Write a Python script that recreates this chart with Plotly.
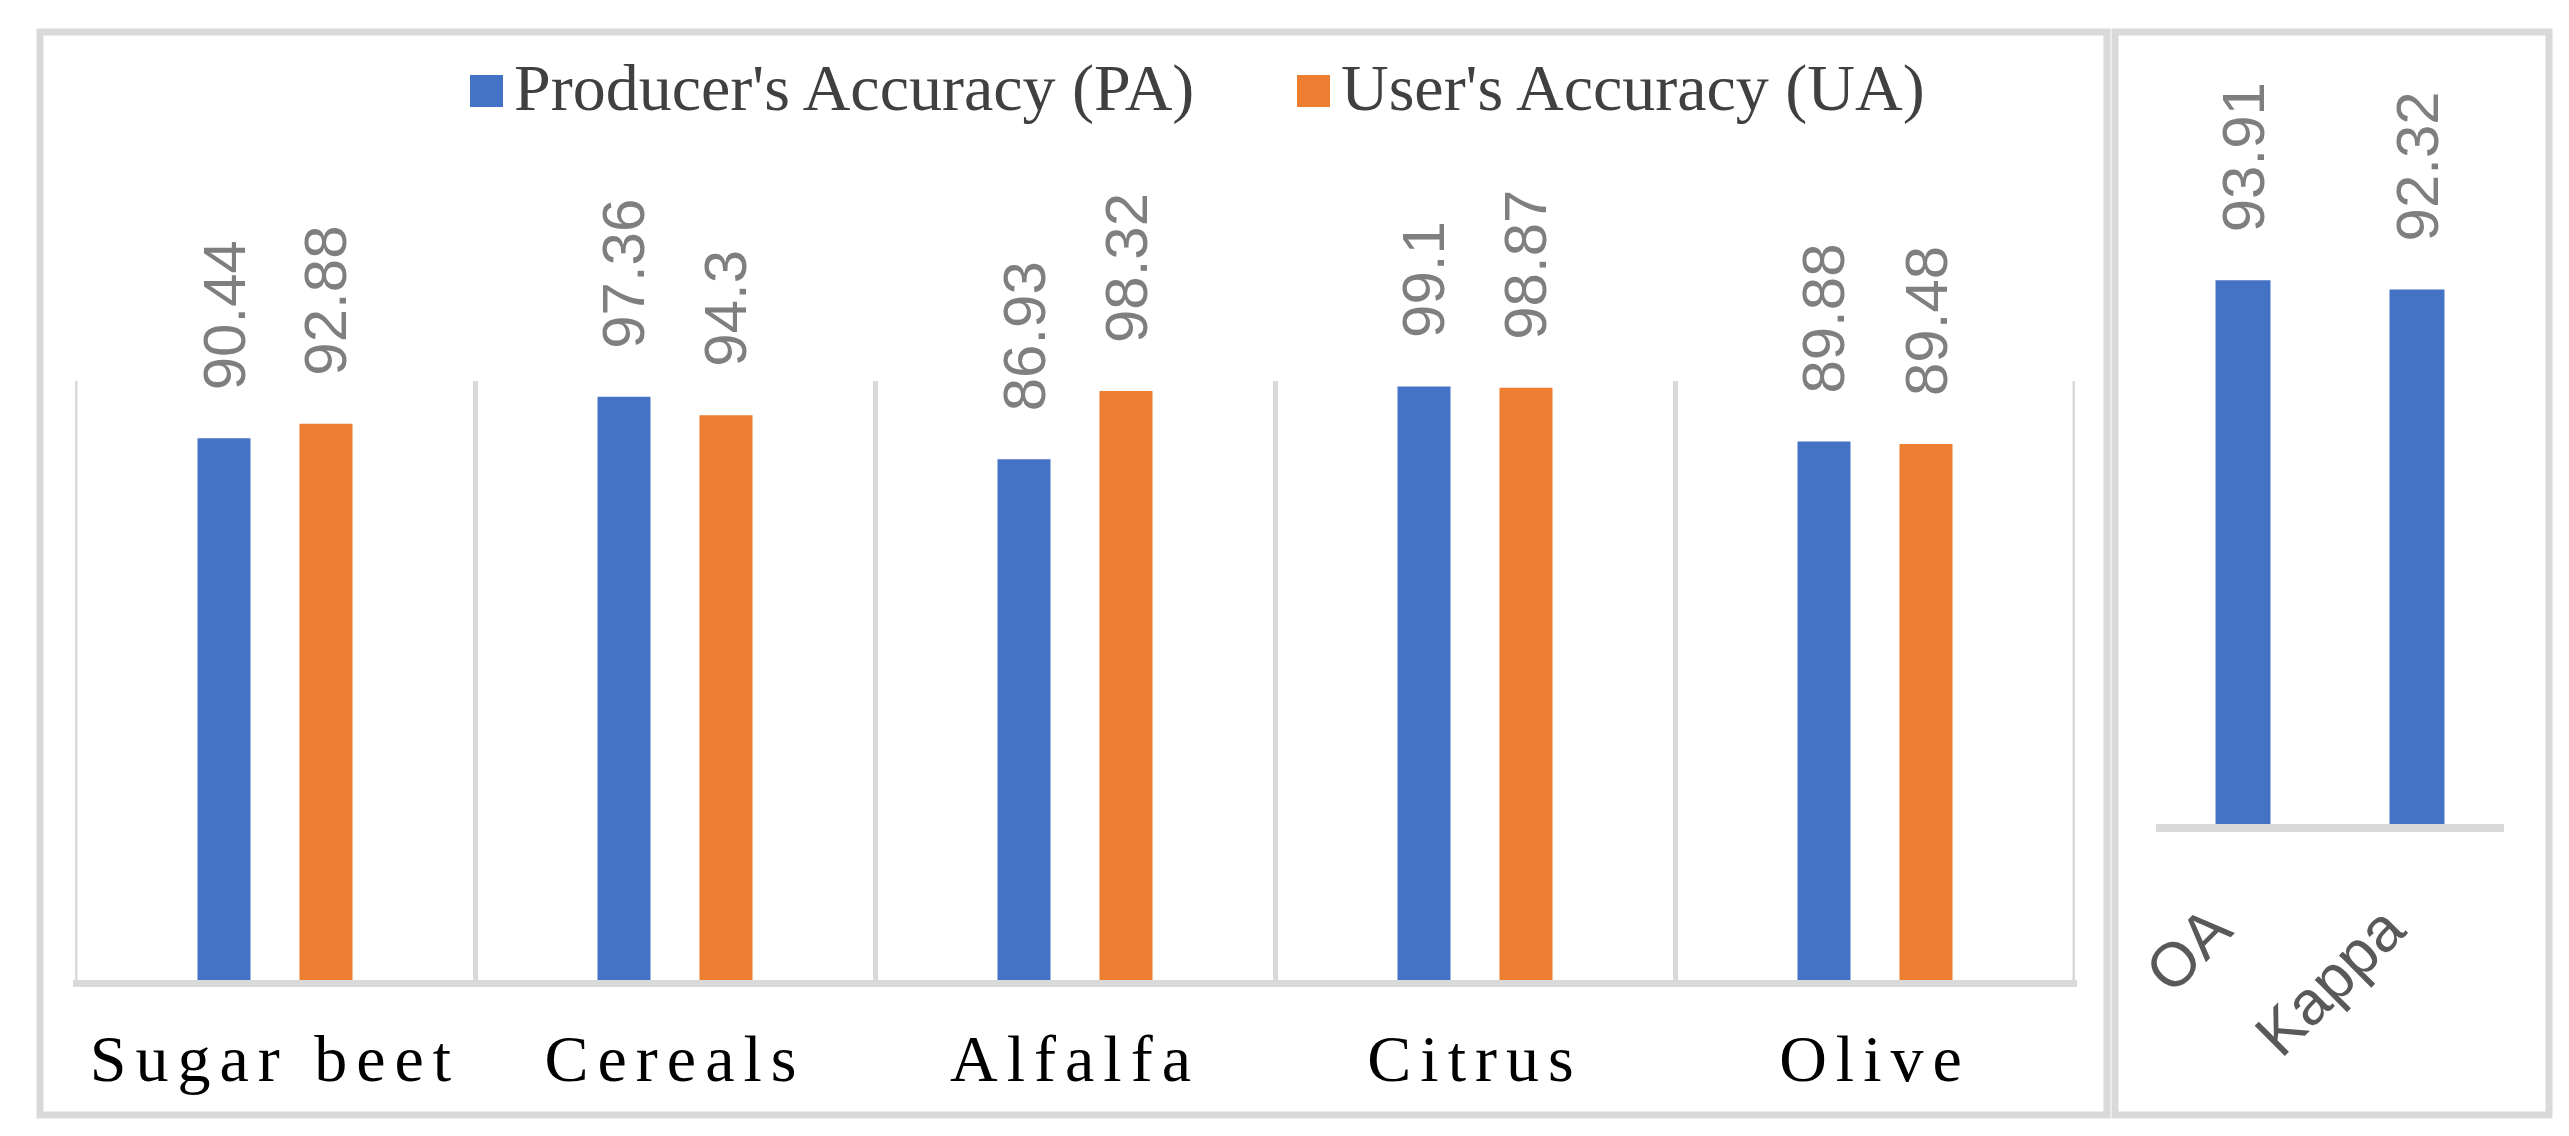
import plotly.graph_objects as go

# ---------------- data ----------------
categories = ["Sugar beet", "Cereals", "Alfalfa", "Citrus", "Olive"]
pa_values = [90.44, 97.36, 86.93, 99.1, 89.88]
ua_values = [92.88, 94.3, 98.32, 98.87, 89.48]
series_names = ["Producer's Accuracy (PA)", "User's Accuracy (UA)"]
overall_labels = ["OA", "Kappa"]
overall_values = [93.91, 92.32]

# ---------------- style ----------------
W, H = 2569, 1136
BLUE = "#4472C4"
ORANGE = "#ED7D31"
GRID = "#D9D9D9"
LABEL_GRAY = "#7F7F7F"


def px(x):
    return x / W


def py(y):
    return 1 - y / H


fig = go.Figure()

# Left panel bars
bw = 0.1325
off = 0.1275
fig.add_trace(go.Bar(x=categories, y=pa_values, name=series_names[0],
                     marker=dict(color=BLUE, line=dict(width=0)),
                     width=bw, offset=-off - bw / 2, xaxis="x", yaxis="y"))
fig.add_trace(go.Bar(x=categories, y=ua_values, name=series_names[1],
                     marker=dict(color=ORANGE, line=dict(width=0)),
                     width=bw, offset=off - bw / 2, xaxis="x", yaxis="y"))
# Right panel bars
bw2 = 0.316
fig.add_trace(go.Bar(x=overall_labels, y=overall_values, name="Overall",
                     marker=dict(color=BLUE, line=dict(width=0)),
                     width=bw2, offset=-bw2 / 2, xaxis="x2", yaxis="y2"))

annotations = []
label_font = dict(family="Liberation Sans", size=60, color=LABEL_GRAY)
for i, v in enumerate(pa_values):
    annotations.append(dict(x=i - off, y=v, xref="x", yref="y", text=f"{v:g}",
                            textangle=-90, showarrow=False, xanchor="center",
                            yanchor="bottom", yshift=46, font=label_font))
for i, v in enumerate(ua_values):
    annotations.append(dict(x=i + off, y=v, xref="x", yref="y", text=f"{v:g}",
                            textangle=-90, showarrow=False, xanchor="center",
                            yanchor="bottom", yshift=46, font=label_font))
for i, v in enumerate(overall_values):
    annotations.append(dict(x=i, y=v, xref="x2", yref="y2", text=f"{v:g}",
                            textangle=-90, showarrow=False, xanchor="center",
                            yanchor="bottom", yshift=46, font=label_font))

# Rotated category labels of the right panel
cat2_font = dict(family="Liberation Sans", size=62, color="#595959")
for i, lab in enumerate(overall_labels):
    annotations.append(dict(x=i, y=0, xref="x2", yref="y2", text=lab,
                            textangle=-45, showarrow=False, xanchor="right",
                            yanchor="top", xshift=4, yshift=-66, font=cat2_font))

# Manual legend (large square keys)
legend_font = dict(family="Liberation Serif", size=66, color="#404040")
legend_keys = [(462, BLUE), (1289, ORANGE)]
shapes = []
for (kx, col), name in zip(legend_keys, series_names):
    shapes.append(dict(type="rect", xref="paper", yref="paper",
                       x0=px(kx), x1=px(kx + 33), y0=py(99), y1=py(67),
                       fillcolor=col, line=dict(width=0)))
    annotations.append(dict(x=px(kx + 42), y=py(80), xref="paper", yref="paper",
                            text=name, showarrow=False, xanchor="left",
                            yanchor="middle", font=legend_font))

# Category boundary lines at the outer edges of the left plot
n_cat = len(categories)
for xb in (-0.5, n_cat - 0.5):
    shapes.append(dict(type="line", xref="x", yref="y", x0=xb, x1=xb, y0=0, y1=100,
                       line=dict(color=GRID, width=5), layer="below"))

# Axis base lines
shapes.append(dict(type="rect", xref="paper", yref="paper", x0=px(65), x1=px(2069),
                   y0=py(979), y1=py(972), fillcolor=GRID, line=dict(width=0)))
shapes.append(dict(type="rect", xref="paper", yref="paper", x0=px(2148), x1=px(2496),
                   y0=py(824), y1=py(816), fillcolor=GRID, line=dict(width=0)))
# Chart frames
shapes.append(dict(type="rect", xref="paper", yref="paper", x0=px(32), x1=px(2099),
                   y0=py(1107), y1=py(24), line=dict(color=GRID, width=7),
                   fillcolor="rgba(0,0,0,0)", layer="below"))
shapes.append(dict(type="rect", xref="paper", yref="paper", x0=px(2107), x1=px(2541),
                   y0=py(1107), y1=py(24), line=dict(color=GRID, width=7),
                   fillcolor="rgba(0,0,0,0)", layer="below"))

fig.update_layout(
    width=W, height=H,
    margin=dict(l=0, r=0, t=0, b=0),
    paper_bgcolor="white", plot_bgcolor="rgba(0,0,0,0)",
    showlegend=False,
    barmode="overlay",
    xaxis=dict(domain=[px(67), px(2067)], type="category", range=[-0.5, 4.5],
               tickson="boundaries", showgrid=True, gridcolor=GRID, gridwidth=5,
               ticks="", showline=False, zeroline=False,
               tickfont=dict(family="Liberation Serif", size=66, color="#000000"),
               ticklabelstandoff=34, anchor="y"),
    yaxis=dict(domain=[py(972), py(373)], range=[0, 100], showgrid=False,
               showticklabels=False, zeroline=False, showline=False, anchor="x"),
    xaxis2=dict(domain=[px(2148), px(2496)], type="category", range=[-0.5, 1.5],
                showgrid=False, ticks="", showline=False, zeroline=False,
                showticklabels=False, anchor="y2"),
    yaxis2=dict(domain=[py(816), py(237)], range=[0, 100], showgrid=False,
                showticklabels=False, zeroline=False, showline=False, anchor="x2"),
    shapes=shapes,
    annotations=annotations,
)

post = ("document.querySelectorAll('.xtick text').forEach(function(t){"
        "t.style.letterSpacing='9px';});")
fig.write_html("out.html", post_script=post)
